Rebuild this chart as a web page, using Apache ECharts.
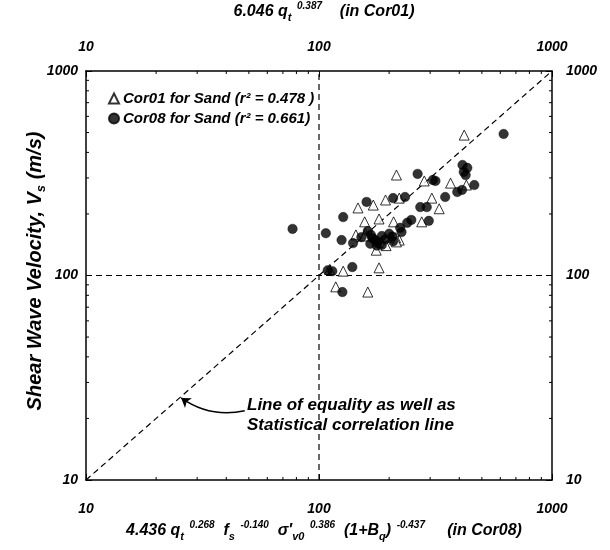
<!DOCTYPE html>
<html>
<head>
<meta charset="utf-8">
<script src="https://cdn.jsdelivr.net/npm/echarts@6/dist/echarts.min.js"></script>
<style>
html, body { margin: 0; padding: 0; background: #ffffff; }
#chart { width: 610px; height: 550px; }
</style>
</head>
<body>
<div id="chart"></div>
<script>
// Log-log axes: predicted Vs from the two correlations (x) against measured Vs (y)
const axisMin = 10;
const axisMax = 1000;
const minorMultipliers = [2, 3, 4, 5, 6, 7, 8, 9];

// Cor01 for sand: [predicted, measured] in m/s
const cor01Sand = [
  [420, 486], [215, 310], [283, 290], [367, 283], [429, 277], [305, 239], [221, 239],
  [193, 234], [171, 221], [147, 214], [328, 212], [157, 183], [181, 189], [276, 183],
  [209, 183], [206, 154], [221, 149], [144, 158], [158, 161], [176, 133], [213, 153],
  [215, 146], [181, 109], [162, 83], [118, 88], [127, 105], [157, 156], [185, 145],
  [194, 140], [111, 107]
];

// Cor08 for sand: [predicted, measured] in m/s
const cor08Sand = [
  [77, 169], [620, 492], [265, 314], [316, 290], [308, 293], [413, 347], [433, 336],
  [418, 321], [426, 310], [464, 277], [411, 262], [392, 256], [348, 242], [234, 242],
  [208, 239], [160, 229], [272, 216], [290, 216], [296, 185], [249, 187], [239, 181],
  [223, 171], [226, 163], [127, 193], [107, 161], [125, 149], [140, 144], [152, 154],
  [162, 165], [167, 158], [170, 152], [174, 149], [179, 146], [186, 156], [192, 150],
  [200, 160], [206, 155], [208, 147], [177, 140], [166, 143], [186, 141], [109, 106],
  [114, 105], [139, 110], [126, 83]
];

const equalityLine = [[10, 10], [1000, 1000]];
const referenceH = [[10, 100], [1000, 100]];
const referenceV = [[100, 10], [100, 1000]];
const arrowFrom = [48, 21.8];
const arrowTo = [25.6, 25.2];

const legendNames = ['Cor01 for Sand (r\u00B2 = 0.478 )', 'Cor08 for Sand (r\u00B2 = 0.661)'];

// minor tick positions on each decade
const minorTicks = [];
for (let d = axisMin; d < axisMax; d *= 10) {
  minorMultipliers.forEach(function (k) { minorTicks.push([d * k, d * k]); });
}

const FONT = '"Liberation Sans", Arial, sans-serif';
const baseText = { fontFamily: FONT, fontWeight: 'bold', fontStyle: 'italic', color: '#000' };
const titleRich = {
  m: Object.assign({ fontSize: 16, lineHeight: 22, verticalAlign: 'middle' }, baseText),
  sup: Object.assign({ fontSize: 10, lineHeight: 10, verticalAlign: 'top' }, baseText),
  sub: Object.assign({ fontSize: 11, lineHeight: 11, verticalAlign: 'bottom' }, baseText)
};
const yTitleRich = {
  m: Object.assign({ fontSize: 20, lineHeight: 26, verticalAlign: 'middle' }, baseText),
  sub: Object.assign({ fontSize: 13, lineHeight: 13, verticalAlign: 'bottom' }, baseText)
};

const chart = echarts.init(document.getElementById('chart'), null, { renderer: 'canvas' });

function logAxis(pos, margin) {
  return {
    type: 'log', logBase: 10, min: axisMin, max: axisMax, position: pos,
    axisLine: { show: true, onZero: false, lineStyle: { color: '#000', width: 1.5 } },
    axisTick: { show: true, inside: true, length: 6, lineStyle: { color: '#000', width: 1 } },
    splitLine: { show: false },
    axisLabel: Object.assign({
      show: true, fontSize: 14, margin: margin,
      formatter: function (v) { return String(Math.round(v)); }
    }, baseText)
  };
}

const dashed = { color: '#000', width: 1.2, type: [6, 4] };

chart.setOption({
  animation: false,
  backgroundColor: '#ffffff',
  grid: { left: 86, right: 58, top: 71, bottom: 70, containLabel: false },
  xAxis: [logAxis('bottom', 22), logAxis('top', 17)],
  yAxis: [logAxis('left', 8), logAxis('right', 14)],
  legend: {
    orient: 'vertical', left: 103, top: 86, itemGap: 5,
    itemWidth: 10, itemHeight: 10,
    data: legendNames,
    textStyle: Object.assign({ fontSize: 15, padding: [0, 0, 0, -1] }, baseText),
    selectedMode: false
  },
  series: [
    { type: 'line', data: equalityLine, symbol: 'none', lineStyle: dashed, silent: true, z: 1 },
    { type: 'line', data: referenceH, symbol: 'none', lineStyle: dashed, silent: true, z: 1 },
    { type: 'line', data: referenceV, symbol: 'none', lineStyle: dashed, silent: true, z: 1 },
    {
      name: legendNames[0], type: 'scatter', data: cor01Sand, symbol: 'triangle', symbolSize: 10,
      itemStyle: { color: '#ffffff', borderColor: '#000', borderWidth: 1 }, z: 3
    },
    {
      name: legendNames[1], type: 'scatter', data: cor08Sand, symbol: 'circle', symbolSize: 9.5,
      itemStyle: { color: '#000', borderColor: '#000', borderWidth: 0.5 }, z: 4
    },
    {
      type: 'custom', data: minorTicks, silent: true, clip: false, z: 2,
      renderItem: function (params, api) {
        const v = api.value(0);
        const b = api.coord([v, axisMin]);
        const t = api.coord([v, axisMax]);
        const l = api.coord([axisMin, v]);
        const r = api.coord([axisMax, v]);
        const st = { stroke: '#000', lineWidth: 1 };
        const len = 3;
        return {
          type: 'group',
          children: [
            { type: 'line', shape: { x1: b[0], y1: b[1], x2: b[0], y2: b[1] - len }, style: st },
            { type: 'line', shape: { x1: t[0], y1: t[1], x2: t[0], y2: t[1] + len }, style: st },
            { type: 'line', shape: { x1: l[0], y1: l[1], x2: l[0] + len, y2: l[1] }, style: st },
            { type: 'line', shape: { x1: r[0], y1: r[1], x2: r[0] - len, y2: r[1] }, style: st }
          ]
        };
      }
    },
    {
      type: 'lines', coordinateSystem: 'cartesian2d', silent: true, z: 5,
      symbol: ['none', 'arrow'], symbolSize: 9,
      lineStyle: { color: '#000', width: 1.5, curveness: 0.22, opacity: 1 },
      data: [{ coords: [arrowFrom, arrowTo] }]
    }
  ],
  graphic: [
    {
      type: 'text', x: 324, y: 12,
      style: {
        text: '{m|6.046 q}{sub|t}{sup|  0.387}{m|    (in Cor01)}',
        rich: titleRich, align: 'center', verticalAlign: 'middle'
      }
    },
    {
      type: 'text', x: 324, y: 531,
      style: {
        text: '{m|4.436 q}{sub|t}{sup|  0.268}{m|  f}{sub|s}{sup|  -0.140}{m|  \u03C3\u2032}{sub|v0}{sup|  0.386}{m|  (1+B}{sub|q}{m|)}{sup|  -0.437}{m|     (in Cor08)}',
        rich: titleRich, align: 'center', verticalAlign: 'middle'
      }
    },
    {
      type: 'text', x: 35, y: 271, rotation: Math.PI / 2,
      style: {
        text: '{m|Shear Wave Velocity, V}{sub|s}{m| (m/s)}',
        rich: yTitleRich, align: 'center', verticalAlign: 'middle'
      }
    },
    {
      type: 'text', x: 247, y: 395,
      style: {
        text: 'Line of equality as well as\nStatistical correlation line',
        fontFamily: FONT, fontWeight: 'bold', fontStyle: 'italic', fontSize: 17,
        lineHeight: 20, fill: '#000', align: 'left', verticalAlign: 'top'
      }
    }
  ]
});
</script>
</body>
</html>
